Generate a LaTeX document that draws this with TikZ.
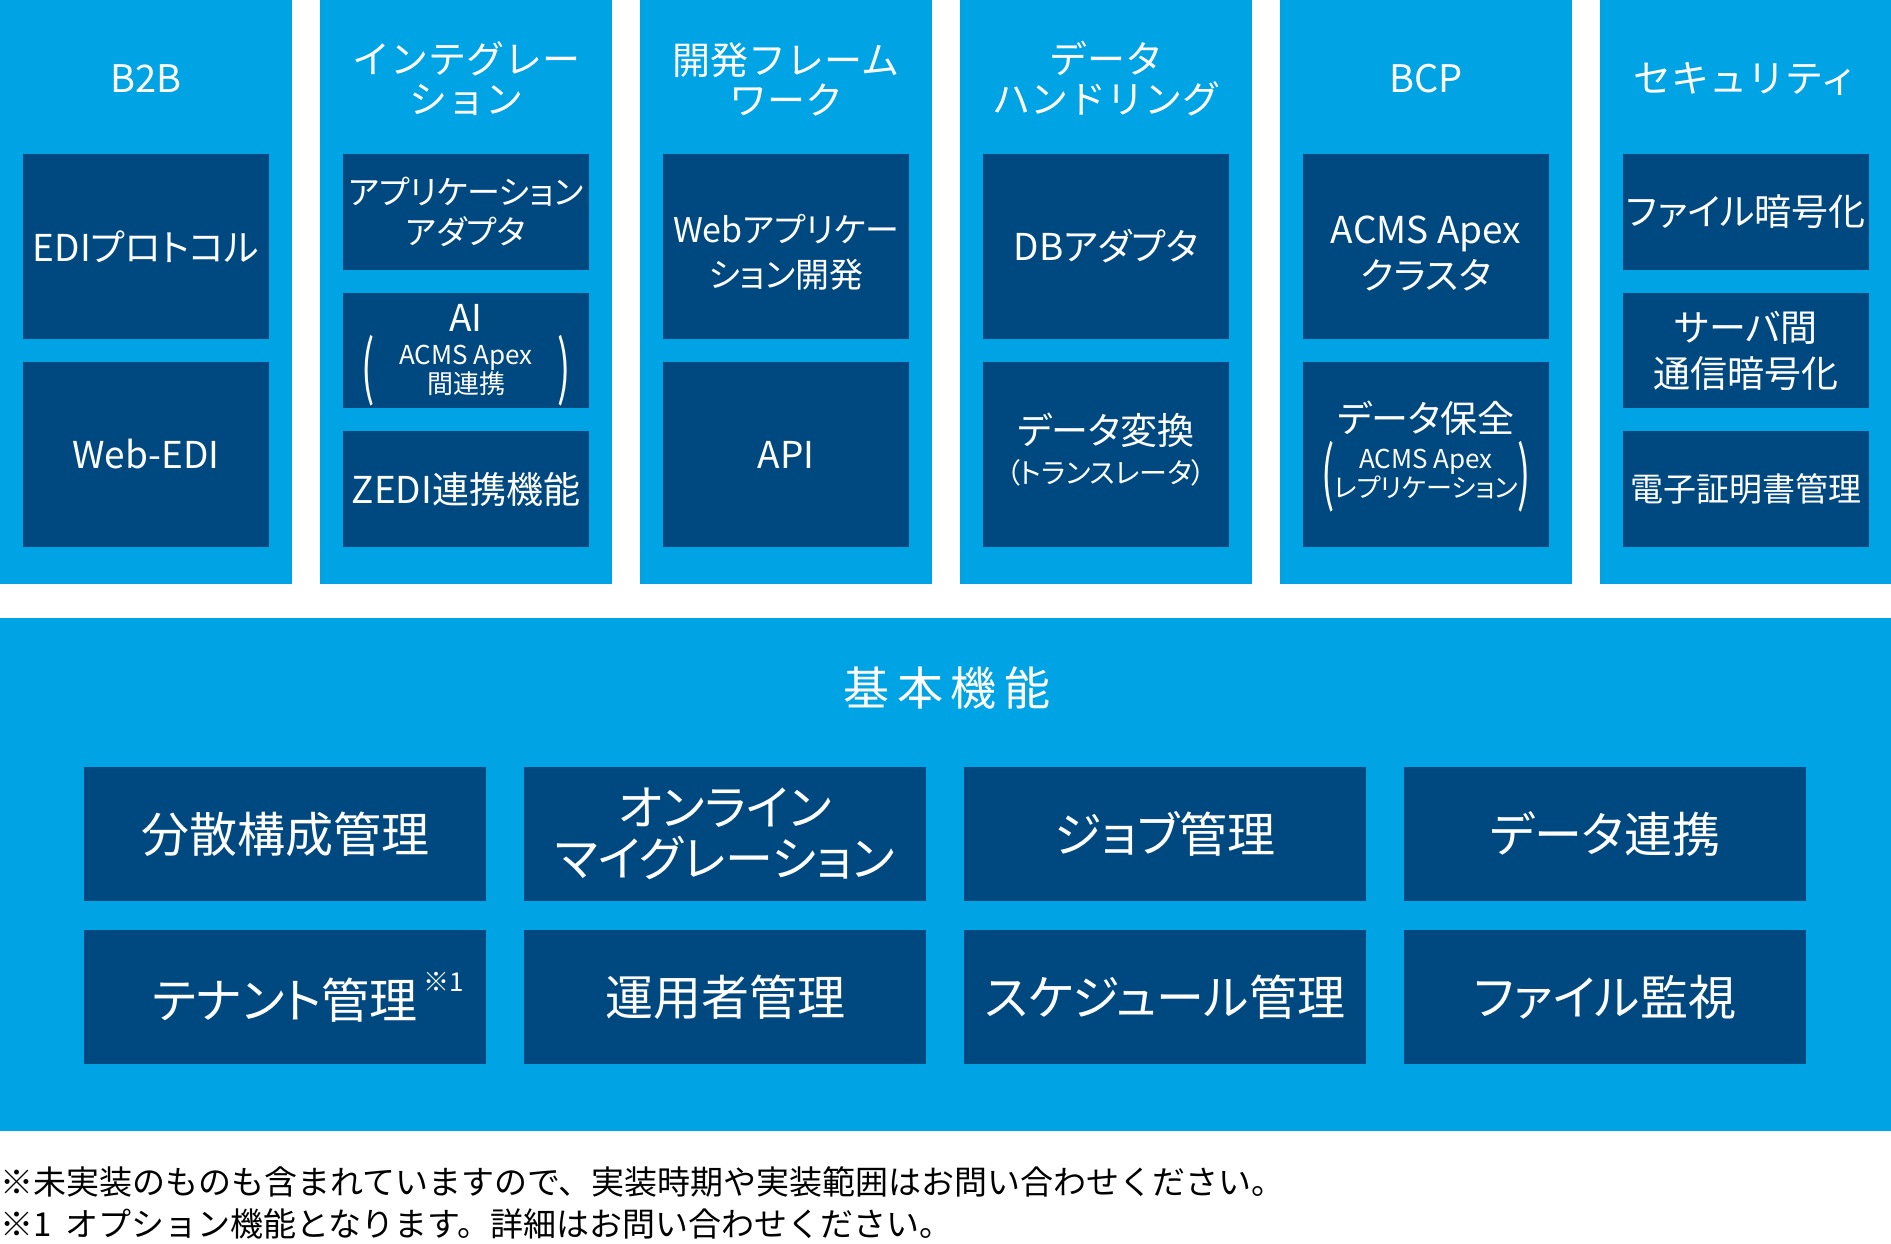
\documentclass[tikz,border=0pt]{standalone}
\usepackage{graphicx}
\usepackage{fontspec}
\setmainfont{Noto Sans CJK JP}
\newfontfamily\propfont{Noto Sans CJK JP}[RawFeature=+palt]
\usepackage{tikz}

\definecolor{skyblue}{RGB}{0,164,229}
\definecolor{navyblue}{RGB}{0,73,128}

\tikzset{
    pillar/.style={fill=skyblue, anchor=north west, inner sep=0pt, outer sep=0pt,
        minimum width=292pt, minimum height=584pt},
    pillarhead/.style={text=white, align=center, font=\fontsize{38}{40}\selectfont},
    feat/.style={fill=navyblue, text=white, anchor=north west, inner sep=0pt, outer sep=0pt,
        minimum width=246pt, align=center, font=\propfont\fontsize{37}{46}\selectfont},
    feattall/.style={feat, minimum height=185pt},
    featshort/.style={feat, minimum height=116pt},
    feattext/.style={text=white, align=center, font=\propfont\fontsize{37}{46}\selectfont},
    featsmall/.style={text=white, align=center, font=\propfont\fontsize{26}{26}\selectfont},
    bigparen/.style={text=white, inner sep=0pt, font=\fontsize{28}{28}\selectfont},
    basebox/.style={fill=navyblue, text=white, anchor=north west, inner sep=0pt, outer sep=0pt,
        minimum width=402pt, minimum height=134pt, align=center,
        font=\propfont\fontsize{48}{51}\selectfont},
    footnote/.style={anchor=west, inner sep=0pt, text=black, font=\fontsize{33}{33}\selectfont}
}

\begin{document}
\begin{tikzpicture}[x=1pt, y=-1pt]
    % 背景と画像の範囲
    \path[use as bounding box, fill=white] (0,0) rectangle (1891,1243);

    % 上段の六つの柱と見出し
    \foreach \i/\name in {0/{B2B}, 1/{インテグレー\\ション}, 2/{開発フレーム\\ワーク},
        3/{データ\\ハンドリング}, 4/{BCP}, 5/{セキュリティ}} {
        \node[pillar] (col\i) at (320*\i, 0) {};
        \node[pillarhead] (head\i) at (320*\i+146, 79) {\name};
    }

    % B2B
    \node[feattall] (edi) at (23,154) {EDIプロトコル};
    \node[feattall] (webedi) at (23,362) {Web-EDI};

    % インテグレーション
    \node[featshort, font=\propfont\fontsize{33}{40}\selectfont] (appadapter) at (343,154) {アプリケーション\\アダプタ};
    \node[featshort, minimum height=115pt] (ai) at (343,293) {};
    \node[feattext] (aihead) at (466,318) {AI};
    \node[featsmall] (aisub) at (466,370) {ACMS Apex\\間連携};
    \node[bigparen] (aileft) at (368,371) {\scalebox{1.4}[2.5]{(}};
    \node[bigparen] (airight) at (564,371) {\scalebox{1.4}[2.5]{)}};
    \node[featshort] (zedi) at (343,431) {ZEDI連携機能};

    % 開発フレームワーク
    \node[feattall] (webapp) at (663,154) {};
    \node[feattext, font=\propfont\fontsize{34}{45}\selectfont] (webapptext) at (786,252) {Webアプリケー\\ション開発};
    \node[feattall] (api) at (663,362) {API};

    % データハンドリング
    \node[feattall] (dbadapter) at (983,154) {DBアダプタ};
    \node[feattall] (convert) at (983,362) {};
    \node[feattext] (converthead) at (1106,430) {データ変換};
    \node[feattext, font=\propfont\fontsize{28}{28}\selectfont] (convertsub) at (1106,473) {（トランスレータ）};

    % BCP
    \node[feattall] (cluster) at (1303,154) {};
    \node[feattext] (clustertext) at (1426,254) {ACMS Apex\\クラスタ};
    \node[feattall] (protect) at (1303,362) {};
    \node[feattext] (protecthead) at (1426,418) {データ保全};
    \node[featsmall] (protectsub) at (1426,474) {ACMS Apex\\レプリケーション};
    \node[bigparen] (protectleft) at (1328,477) {\scalebox{1.4}[2.5]{(}};
    \node[bigparen] (protectright) at (1524,477) {\scalebox{1.4}[2.5]{)}};

    % セキュリティ
    \node[featshort] (fileenc) at (1623,154) {ファイル暗号化};
    \node[featshort, minimum height=115pt] (commenc) at (1623,293) {サーバ間\\通信暗号化};
    \node[featshort, font=\propfont\fontsize{33}{33}\selectfont] (cert) at (1623,431) {電子証明書管理};

    % 基本機能
    \node[fill=skyblue, anchor=north west, inner sep=0pt, outer sep=0pt,
        minimum width=1891pt, minimum height=513pt] (basepanel) at (0,618) {};
    \node[text=white, font=\fontsize{46}{46}\selectfont\addfontfeature{LetterSpace=17}] (basehead) at (947,688) {基本機能};
    \foreach \j/\rowa/\rowb in {0/{分散構成管理}/{テナント管理\rlap{\hspace{6pt}\raisebox{27pt}{\fontsize{26}{26}\selectfont ※1}}},
        1/{オンライン\\マイグレーション}/{運用者管理}, 2/{ジョブ管理}/{スケジュール管理},
        3/{データ連携}/{ファイル監視}} {
        \node[basebox] (basea\j) at (84+440*\j, 767) {\rowa};
        \node[basebox] (baseb\j) at (84+440*\j, 930) {\rowb};
    }

    % 注記
    \node[footnote] (note1) at (0,1182) {※未実装のものも含まれていますので、実装時期や実装範囲はお問い合わせください。};
    \node[footnote] (note2) at (0,1224) {※1\hspace{14pt}オプション機能となります。詳細はお問い合わせください。};
\end{tikzpicture}
\end{document}
